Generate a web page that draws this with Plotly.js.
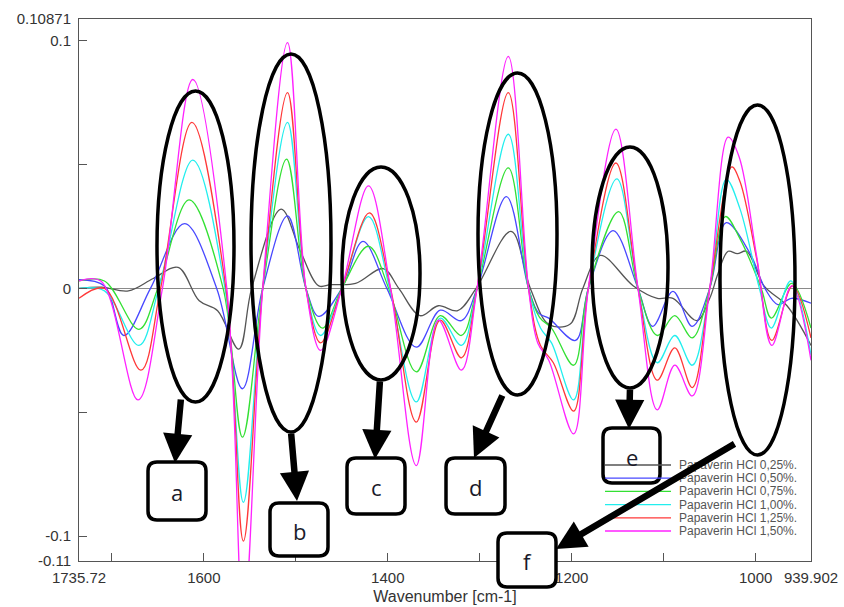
<!DOCTYPE html>
<html><head><meta charset="utf-8">
<script src="https://cdn.plot.ly/plotly-3.0.1.min.js"></script>
<style>html,body{margin:0;padding:0;background:#fff;}#chart{width:844px;height:607px;}</style>
</head><body><div id="chart"></div>
<script>
// ---- data (wavenumber in cm-1, value) ----
const seriesNames = ['Papaverin HCl 0,25%.', 'Papaverin HCl 0,50%.', 'Papaverin HCl 0,75%.', 'Papaverin HCl 1,00%.', 'Papaverin HCl 1,25%.', 'Papaverin HCl 1,50%.'];
const seriesColors = ['#555555', '#4848ff', '#33e033', '#22eeee', '#ff3838', '#ff22ff'];

const wn025 = [1735.72, 1711, 1682, 1655, 1628, 1605, 1585, 1562, 1548, 1516, 1495, 1475, 1462, 1435, 1405, 1388, 1365, 1345, 1324, 1304, 1266, 1245, 1225, 1202, 1188, 1169, 1133, 1107, 1090, 1064, 1050, 1041, 1030, 1020, 1010, 991, 966, 939.902];
const abs025 = [0.000, 0.0005, -0.001, 0.004, 0.0085, -0.005, -0.009, -0.0245, 0.000, 0.032, 0.015, 0.001, 0.0015, 0.002, 0.008, 0.000, -0.011, -0.007, -0.009, 0.000, 0.023, 0.000, -0.0145, -0.0145, 0.000, 0.0133, 0.001, -0.004, -0.004, -0.013, -0.004, 0.006, 0.015, 0.014, 0.015, 0.001, -0.007, -0.023];

const wn050 = [1735.72, 1708, 1687, 1658, 1621, 1586, 1558, 1536, 1509, 1489, 1475, 1450, 1427, 1401, 1369, 1343, 1320, 1303, 1271, 1247, 1236, 1225, 1196, 1182, 1155, 1128, 1112, 1090, 1069, 1050, 1032, 1006, 990, 976, 961, 939.902];
const abs050 = [0.0035, 0.001, -0.019, 0.000, 0.0261, 0.000, -0.0405, 0.000, 0.0293, 0.000, -0.0113, 0.000, 0.019, 0.000, -0.0237, -0.0088, -0.013, 0.000, 0.037, 0.000, -0.010, -0.012, -0.021, 0.000, 0.0233, 0.000, -0.0153, -0.0012, -0.0153, 0.000, 0.0265, 0.014, 0.000, -0.0065, -0.004, -0.006];

const wn075 = [1735.72, 1708, 1670.5, 1650, 1616, 1579, 1558, 1536, 1510, 1489, 1471, 1450, 1421, 1399, 1369, 1343, 1320, 1303, 1269, 1247, 1235, 1222, 1198, 1182, 1149, 1128, 1107, 1088, 1069, 1050, 1033, 1017, 994, 983, 961, 939.902];
const abs075 = [0.003, 0.003, -0.0165, 0.000, 0.0357, 0.000, -0.060, 0.000, 0.0522, 0.000, -0.016, 0.000, 0.017, 0.000, -0.0337, -0.011, -0.019, 0.000, 0.0486, 0.000, -0.0117, -0.016, -0.031, 0.000, 0.031, 0.000, -0.019, -0.011, -0.020, 0.000, 0.029, 0.020, 0.000, -0.012, 0.002, -0.016];

const wn100 = [1735.72, 1708, 1670.5, 1649, 1612, 1577, 1557, 1536, 1509, 1489, 1473, 1450, 1421, 1398, 1369, 1343, 1320, 1303, 1269, 1247, 1234, 1222, 1198, 1182, 1151, 1128, 1107, 1088, 1069, 1050, 1032, 1017, 996, 983, 962, 939.902];
const abs100 = [0.000, -0.001, -0.023, 0.000, 0.0518, 0.000, -0.0863, 0.000, 0.067, 0.000, -0.019, 0.000, 0.029, 0.000, -0.0458, -0.012, -0.023, 0.000, 0.0622, 0.000, -0.016, -0.022, -0.045, 0.000, 0.0442, 0.000, -0.030, -0.019, -0.031, 0.000, 0.044, 0.032, 0.000, -0.016, 0.003, -0.027];

const wn125 = [1735.72, 1708, 1668.4, 1647, 1613, 1576, 1557, 1536, 1509, 1489, 1473, 1450, 1420, 1397, 1369, 1343, 1320, 1303, 1269, 1247, 1234, 1220, 1198, 1182, 1152, 1128, 1107, 1088, 1069, 1050, 1026, 1017, 999, 982.5, 960, 939.902];
const abs125 = [-0.004, 0.000, -0.033, 0.000, 0.067, 0.000, -0.102, 0.000, 0.079, 0.000, -0.022, 0.000, 0.0305, 0.000, -0.054, -0.0128, -0.028, 0.000, 0.079, 0.000, -0.023, -0.030, -0.0495, 0.000, 0.0506, 0.000, -0.037, -0.024, -0.040, 0.000, 0.049, 0.043, 0.012, -0.021, 0.001, -0.020];

const wn150 = [1735.72, 1712, 1671.6, 1645, 1612, 1575, 1557, 1536, 1509, 1489, 1473, 1450, 1421, 1397, 1369, 1345, 1320, 1303, 1269, 1247, 1237, 1225, 1198, 1182, 1152, 1128, 1107, 1088, 1069, 1050, 1030, 1018, 999, 982.5, 961, 939.902];
const abs150 = [0.003, 0.003, -0.045, 0.000, 0.0843, 0.000, -0.135, 0.000, 0.0992, 0.000, -0.025, 0.000, 0.0414, 0.000, -0.0715, -0.0128, -0.033, 0.000, 0.0936, 0.000, -0.022, -0.029, -0.0587, 0.000, 0.0643, 0.000, -0.049, -0.031, -0.0434, 0.000, 0.061, 0.053, 0.013, -0.023, 0.001, -0.029];

const xTickVals = [1735.72, 1700, 1600, 1500, 1400, 1300, 1200, 1100, 1000, 939.902];
const xTickText = ['1735.72', '', '1600', '', '1400', '', '1200', '', '1000', '939.902'];
const yTickVals = [0.10871, 0.1, 0.05, 0, -0.05, -0.1, -0.11];
const yTickText = ['0.10871', '0.1', '', '0', '', '-0.1', '-0.11'];
const boxLetters = ['a', 'b', 'c', 'd', 'e', 'f'];

// ---- figure ----
const xs = [wn025, wn050, wn075, wn100, wn125, wn150];
const ys = [abs025, abs050, abs075, abs100, abs125, abs150];
const traces = xs.map((x, i) => ({
  x: x, y: ys[i], name: seriesNames[i], type: 'scatter', mode: 'lines',
  line: {color: seriesColors[i], width: 1.3, shape: 'spline', smoothing: 1},
  showlegend: false, hoverinfo: 'skip'
}));

const L = 79, R = 811, T = 19, B = 561;
const px = x => (x - L) / (R - L);
const py = y => (B - y) / (B - T);

const ellipses = [[157, 91, 234, 402], [251, 54, 331, 432], [342, 167, 420, 380], [478, 73, 557, 395], [592, 147, 668, 388], [720, 105, 795, 455]];
const boxes = [[148, 462, 206, 520], [270, 503, 328, 556], [347, 458, 405, 514], [446, 458, 505, 514], [603, 428, 660, 483], [498, 533, 556, 587]];
const arrows = [[175, 463, 181, 398], [297, 501, 291, 432], [375, 459, 380, 380], [474, 458, 503, 394], [629, 429, 630, 388], [556, 549, 736, 443]];

function rr(x0, y0, x1, y1, r) {
  const P = (x, y) => px(x).toFixed(5) + ',' + py(y).toFixed(5);
  return 'M' + P(x0 + r, y0) + ' L' + P(x1 - r, y0) + ' Q' + P(x1, y0) + ' ' + P(x1, y0 + r) +
    ' L' + P(x1, y1 - r) + ' Q' + P(x1, y1) + ' ' + P(x1 - r, y1) +
    ' L' + P(x0 + r, y1) + ' Q' + P(x0, y1) + ' ' + P(x0, y1 - r) +
    ' L' + P(x0, y0 + r) + ' Q' + P(x0, y0) + ' ' + P(x0 + r, y0) + ' Z';
}

const shapes = [];
ellipses.forEach(e => shapes.push({type: 'circle', xref: 'paper', yref: 'paper',
  x0: px(e[0]), x1: px(e[2]), y0: py(e[3]), y1: py(e[1]), line: {color: '#000', width: 3.5}}));
boxes.forEach(b => shapes.push({type: 'path', xref: 'paper', yref: 'paper', path: rr(b[0], b[1], b[2], b[3], 9),
  line: {color: '#000', width: 3.5}, fillcolor: '#fff'}));
seriesNames.forEach((n, i) => shapes.push({type: 'line', xref: 'paper', yref: 'paper',
  x0: px(605), x1: px(671), y0: py(465 + 13.2 * i), y1: py(465 + 13.2 * i), line: {color: seriesColors[i], width: 1.3}}));

const annotations = [];
seriesNames.forEach((n, i) => annotations.push({xref: 'paper', yref: 'paper', x: px(677), y: py(465 + 13.2 * i),
  xanchor: 'left', yanchor: 'middle', text: n, showarrow: false,
  font: {family: 'Liberation Sans, Arial, sans-serif', size: 12, color: '#555'}}));
boxLetters.forEach((t, i) => {
  const b = boxes[i];
  annotations.push({xref: 'paper', yref: 'paper', x: px((b[0] + b[2]) / 2), y: py((b[1] + b[3]) / 2 + 1),
    xanchor: 'center', yanchor: 'middle', text: t, showarrow: false,
    font: {family: 'Open Sans, Liberation Sans, sans-serif', size: 22, color: '#1a1a2a'}});
});
arrows.forEach(a => annotations.push({xref: 'paper', yref: 'paper', x: px(a[0]), y: py(a[1]),
  ax: a[2] - a[0], ay: a[3] - a[1], text: '', showarrow: true, arrowhead: 2, arrowsize: 0.9,
  arrowwidth: 6.5, arrowcolor: '#000', standoff: 0}));

const tickFont = {family: 'Liberation Sans, Arial, sans-serif', size: 15, color: '#333'};
const layout = {
  width: 844, height: 607,
  margin: {l: L, r: 844 - R, t: T, b: 607 - B},
  paper_bgcolor: '#fff', plot_bgcolor: '#fff',
  showlegend: false,
  xaxis: {range: [1735.72, 939.902], tickmode: 'array', tickvals: xTickVals, ticktext: xTickText,
    ticks: 'inside', ticklen: 8, tickcolor: '#555', tickwidth: 1, showline: true, linecolor: '#555', linewidth: 1,
    mirror: true, showgrid: false, zeroline: false, tickfont: tickFont, ticklabelstandoff: 3,
    title: {text: 'Wavenumber [cm-1]', font: {family: 'Liberation Sans, Arial, sans-serif', size: 16, color: '#333'}, standoff: 5}},
  yaxis: {range: [-0.11, 0.10871], tickmode: 'array', tickvals: yTickVals, ticktext: yTickText,
    ticks: 'inside', ticklen: 8, tickcolor: '#555', tickwidth: 1, showline: true, linecolor: '#555', linewidth: 1,
    mirror: true, showgrid: false, zeroline: true, zerolinecolor: '#8a8a8a', zerolinewidth: 1,
    tickfont: tickFont, ticklabelstandoff: 4},
  shapes: shapes,
  annotations: annotations
};

Plotly.newPlot('chart', traces, layout, {displayModeBar: false, staticPlot: true});
</script>
</body></html>
